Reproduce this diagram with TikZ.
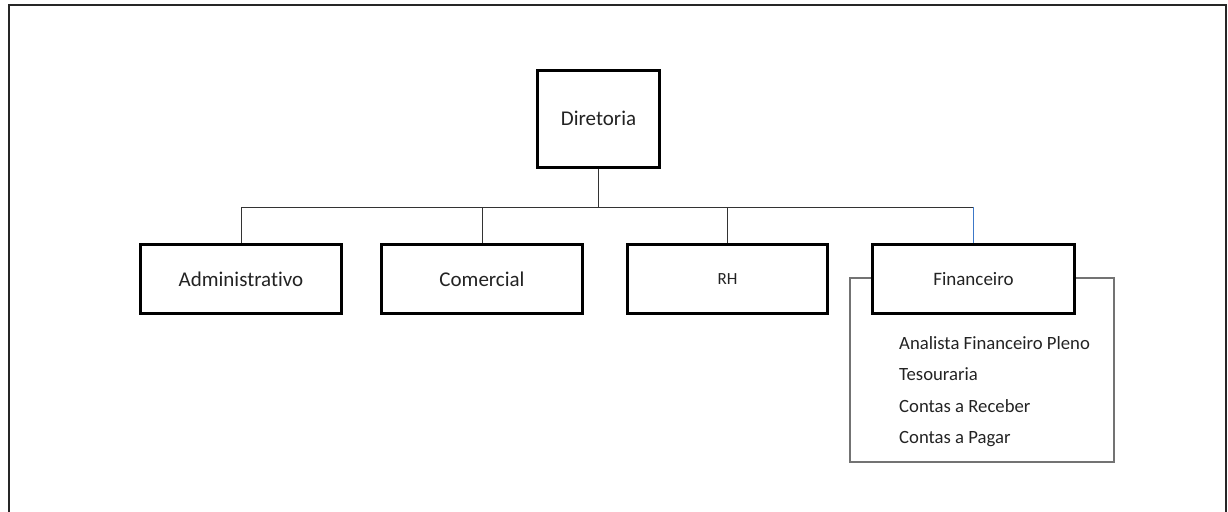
\documentclass[tikz,border=0pt]{standalone}
\usepackage{fontspec}
\setmainfont{Carlito}[Ligatures=NoCommon]
\usetikzlibrary{shapes,arrows}
\definecolor{textgray}{RGB}{35,35,35}
\definecolor{linkblue}{RGB}{60,120,200}
\tikzstyle{orgbox} = [draw=black, line width=3pt, rectangle, fill=white, text=textgray, inner sep=0pt]
\tikzstyle{listbox} = [draw=black!55, line width=1.3pt, rectangle, inner sep=0pt, minimum width=264pt, minimum height=184pt]
\tikzstyle{link} = [draw=black!80, line width=1pt]

\begin{document}
\begin{tikzpicture}[x=1pt, y=-1pt]
\useasboundingbox (0,0) rectangle (1228,511);
% moldura externa
\draw[line width=2pt, black!85] (8.5,560) -- (8.5,5.5) -- (1225.5,5.5) -- (1225.5,560);

\node [orgbox, minimum width=122pt, minimum height=97pt, font=\fontsize{21}{25}\selectfont] (diretoria) at (598.5,118.5) {Diretoria};

% lista do financeiro
\node [listbox] (finlist) at (982,370) {};
\node [anchor=north west, align=left, text=textgray, inner sep=0pt,
       font=\fontsize{18.7}{31.5}\selectfont] (fintext) at (899,336)
  {Analista Financeiro Pleno\\Tesouraria\\Contas a Receber\\Contas a Pagar};

\node [orgbox, minimum width=201pt, minimum height=69pt, font=\fontsize{21}{25}\selectfont] (adm) at (241,279) {Administrativo};
\node [orgbox, minimum width=201pt, minimum height=69pt, font=\fontsize{21}{25}\selectfont] (com) at (482,279) {Comercial};
\node [orgbox, minimum width=200pt, minimum height=69pt, font=\fontsize{17}{20}\selectfont] (rh) at (727.5,279) {RH};
\node [orgbox, minimum width=202pt, minimum height=69pt, font=\fontsize{19}{23}\selectfont] (fin) at (973.5,279) {Financeiro};

% ligacoes
\coordinate (bus) at (598.5,207);
\draw [link] (diretoria.south) -- (bus);
\draw [link] (adm.north) |- (bus -| fin.north);
\draw [link] (com.north) -- (com.north |- bus);
\draw [link] (rh.north) -- (rh.north |- bus);
\draw [link, draw=linkblue] (fin.north) -- (fin.north |- bus);
\end{tikzpicture}
\end{document}
